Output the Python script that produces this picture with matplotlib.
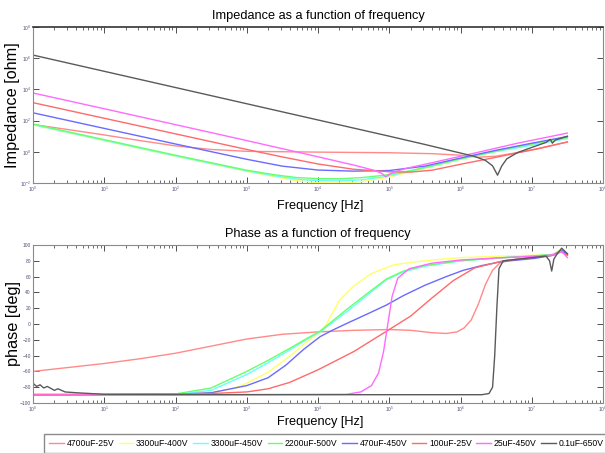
import matplotlib
matplotlib.use("Agg")
import matplotlib.pyplot as plt
import numpy as np
from matplotlib import font_manager
from matplotlib.ticker import LogLocator, FixedLocator, NullFormatter, NullLocator


def pick_font(names):
    for n in names:
        try:
            font_manager.findfont(n, fallback_to_default=False)
            return n
        except ValueError:
            pass
    return "DejaVu Sans"


MAIN_FONT = pick_font(["Liberation Sans", "Arial", "DejaVu Sans"])

labels = ["4700uF-25V", "3300uF-400V", "3300uF-450V", "2200uF-500V",
          "470uF-450V", "100uF-25V", "25uF-450V", "0.1uF-650V"]
colors = ["#ff8a8a", "#ffff6a", "#6affff", "#6aff6a",
          "#6a6aff", "#ff6a6a", "#ff6aff", "#5a5a5a"]

# impedance curves: decade exponent of f and of |Z|
z_lf_4700 = [0, 0.5, 1, 1.5, 2, 2.5, 3, 4, 5, 5.6, 6.0, 6.25, 6.5, 6.8, 7.1, 7.5]
z_lz_4700 = [1.75, 1.42, 1.08, 0.72, 0.38, 0.15, 0.03, -0.02, -0.06, -0.12, -0.22, -0.35, -0.28, -0.05, 0.2, 0.63]

z_lf_3300a = [0, 1, 2, 3, 3.4, 3.7, 4.0, 4.3, 4.6, 4.9, 5.2, 5.6, 6.0, 6.5, 7.0, 7.5]
z_lz_3300a = [1.72, 0.72, -0.28, -1.25, -1.6, -1.85, -1.98, -2.0, -1.92, -1.7, -1.4, -0.95, -0.5, 0.0, 0.45, 0.9]
z_lz_3300b = [1.74, 0.74, -0.26, -1.22, -1.55, -1.75, -1.85, -1.87, -1.8, -1.62, -1.35, -0.92, -0.47, 0.02, 0.42, 0.85]
z_lz_2200 = [1.78, 0.78, -0.22, -1.18, -1.48, -1.65, -1.72, -1.73, -1.66, -1.52, -1.3, -0.9, -0.45, 0.05, 0.5, 0.92]

z_lf_470 = [0, 1, 2, 3, 3.5, 4.0, 4.5, 5.0, 5.5, 6.0, 6.5, 7.0, 7.5]
z_lz_470 = [2.5, 1.5, 0.5, -0.48, -0.92, -1.17, -1.24, -1.2, -0.92, -0.4, 0.1, 0.55, 0.98]

z_lf_100 = [0, 1, 2, 3, 3.5, 4.0, 4.5, 5.0, 5.3, 5.6, 6.0, 6.5, 7.0, 7.5]
z_lz_100 = [3.15, 2.15, 1.15, 0.15, -0.33, -0.78, -1.12, -1.28, -1.3, -1.18, -0.8, -0.35, 0.12, 0.63]

z_lf_25 = [0, 1, 2, 3, 4, 4.5, 4.8, 4.9, 4.95, 5.02, 5.1, 5.25, 5.6, 6.2, 6.8, 7.5]
z_lz_25 = [3.77, 2.76, 1.74, 0.72, -0.32, -0.85, -1.2, -1.4, -1.6, -1.4, -1.25, -1.05, -0.7, -0.08, 0.55, 1.2]

z_lf_01 = [0, 1, 2, 3, 4, 5, 5.5, 6.0, 6.2, 6.35, 6.45, 6.52, 6.58, 6.65, 6.8, 7.0, 7.2, 7.26, 7.29, 7.33, 7.5]
z_lz_01 = [6.2, 5.16, 4.12, 3.08, 2.04, 1.0, 0.47, -0.08, -0.3, -0.55, -0.9, -1.5, -0.9, -0.45, -0.05, 0.28, 0.6, 0.8, 0.55, 0.75, 1.0]

# phase curves: decade exponent of f and phase in degrees
p_lf_4700 = [0, 0.5, 1, 1.5, 2, 2.5, 3, 3.5, 4, 4.5, 5, 5.3, 5.6, 5.8, 5.95, 6.05, 6.15, 6.25, 6.35, 6.45, 6.55, 6.7, 7.0, 7.2, 7.3, 7.4, 7.45, 7.5]
p_deg_4700 = [-60, -55, -50, -44, -37, -28, -19, -13, -10, -8, -7, -8, -11, -12, -10, -5, 5, 25, 50, 68, 77, 81, 84, 86, 88, 93, 92, 87]

p_lf_3300a = [0, 2, 2.5, 2.8, 3.0, 3.3, 3.6, 3.85, 4.03, 4.12, 4.3, 4.5, 4.75, 5.07, 5.3, 5.6, 6.0, 6.6, 7.0, 7.3, 7.42, 7.5]
p_deg_3300a = [-90, -89.5, -87, -82, -75, -61, -41, -22, -10, 0, 30, 48, 64, 75, 78, 81, 84, 86, 87, 88, 94, 88]

p_lf_3300b = [0, 2, 2.5, 3.0, 3.3, 3.6, 3.85, 4.03, 4.41, 4.74, 4.96, 5.2, 5.5, 6.0, 6.6, 7.0, 7.3, 7.42, 7.5]
p_deg_3300b = [-90, -89, -84, -64, -49, -33, -19, -10, 16, 40, 56, 66, 73, 80, 84, 86, 88, 93, 88]
p_deg_2200 = [-90, -88.5, -81, -60, -46, -31, -18, -9, 19, 42, 57, 67, 74, 80, 84, 86, 88, 94, 89]

p_lf_470 = [0, 2, 2.5, 3.0, 3.3, 3.55, 3.8, 4.03, 4.2, 4.41, 4.7, 4.96, 5.2, 5.5, 5.8, 6.04, 6.3, 6.58, 7.04, 7.3, 7.42, 7.5]
p_deg_470 = [-90, -89, -87, -78, -68, -52, -32, -16, -8, 1, 13, 24, 36, 49, 60, 68, 74, 79, 83, 87, 93, 88]

p_lf_100 = [0, 1, 2, 2.5, 3, 3.3, 3.6, 4.0, 4.5, 5.0, 5.3, 5.6, 5.9, 6.2, 6.6, 7.0, 7.3, 7.4, 7.5]
p_deg_100 = [-89, -89, -88.5, -88, -86, -82, -74, -58, -35, -7, 10, 33, 55, 71, 80, 84, 87, 92, 87]

p_lf_25 = [0, 4.4, 4.6, 4.75, 4.85, 4.92, 4.98, 5.04, 5.12, 5.28, 5.6, 6.0, 6.6, 7.1, 7.35, 7.42, 7.5]
p_deg_25 = [-90, -89, -86, -78, -62, -35, 0, 35, 58, 70, 77, 81, 84, 86, 88, 92, 84]

p_lf_01 = [0, 0.05, 0.1, 0.15, 0.2, 0.3, 0.35, 0.45, 0.6, 0.8, 1, 2, 6.3, 6.4, 6.45, 6.48, 6.51, 6.54, 6.6, 7.0, 7.2, 7.25, 7.28, 7.31, 7.35, 7.42, 7.5]
p_deg_01 = [-75, -79, -77, -81, -79, -84, -82, -86, -87, -88, -89, -89.5, -89.5, -88, -80, -40, 20, 70, 80, 84, 86, 80, 67, 82, 88, 96, 89]

imp_f = [z_lf_4700, z_lf_3300a, z_lf_3300a, z_lf_3300a, z_lf_470, z_lf_100, z_lf_25, z_lf_01]
imp_z = [z_lz_4700, z_lz_3300a, z_lz_3300b, z_lz_2200, z_lz_470, z_lz_100, z_lz_25, z_lz_01]
ph_f = [p_lf_4700, p_lf_3300a, p_lf_3300b, p_lf_3300b, p_lf_470, p_lf_100, p_lf_25, p_lf_01]
ph_d = [p_deg_4700, p_deg_3300a, p_deg_3300b, p_deg_2200, p_deg_470, p_deg_100, p_deg_25, p_deg_01]

W, H = 605, 453
fig = plt.figure(figsize=(W / 100, H / 100), dpi=100)
plt.rcParams["font.family"] = MAIN_FONT


def axes_px(left, top, right, bottom):
    return fig.add_axes([left / W, 1 - bottom / H, (right - left) / W, (bottom - top) / H])


ax1 = axes_px(33, 27, 603, 183)
ax2 = axes_px(33, 245, 603, 403)

lines = []
for lf, lz, c, lab in zip(imp_f, imp_z, colors, labels):
    ln, = ax1.plot(10.0 ** np.array(lf), 10.0 ** np.array(lz), color=c, lw=1.0, label=lab)
    lines.append(ln)
for lf, d, c in zip(ph_f, ph_d, colors):
    ax2.plot(10.0 ** np.array(lf), d, color=c, lw=1.0)

for ax in (ax1, ax2):
    ax.set_xscale("log")
    ax.set_xlim(1, 1e8)
    ax.xaxis.set_major_locator(LogLocator(base=10, numticks=20))
    ax.xaxis.set_minor_locator(LogLocator(base=10, subs=np.arange(2, 10), numticks=20))
    ax.xaxis.set_minor_formatter(NullFormatter())
    ax.tick_params(which="both", direction="in", top=True, right=True,
                   labelsize=3.5, labelcolor="#55507a", color="#333333", pad=1.5)
    ax.tick_params(which="major", length=4, width=0.6)
    ax.tick_params(which="minor", length=2.5, width=0.5)
    for s in ax.spines.values():
        s.set_color("#8a8a8a")
        s.set_linewidth(0.8)

ax1.spines["top"].set_color("#333333")
ax1.spines["top"].set_linewidth(1.2)

ax1.set_yscale("log")
ax1.set_ylim(1e-2, 1e8)
ax1.yaxis.set_major_locator(FixedLocator([1e-2, 1e0, 1e2, 1e4, 1e6, 1e8]))
ax1.yaxis.set_minor_locator(NullLocator())

ax2.set_ylim(-100, 100)
ax2.set_yticks(np.arange(-100, 101, 20))
ax2.yaxis.set_minor_locator(NullLocator())

fig.text(318 / W, 1 - 16 / H, "Impedance as a function of frequency", ha="center", va="center", fontsize=9.2)
fig.text(320 / W, 1 - 206 / H, "Frequency [Hz]", ha="center", va="center", fontsize=9.2)
fig.text(318 / W, 1 - 234 / H, "Phase as a function of frequency", ha="center", va="center", fontsize=9.2)
fig.text(320 / W, 1 - 422 / H, "Frequency [Hz]", ha="center", va="center", fontsize=9.2)
fig.text(13 / W, 1 - 105 / H, "Impedance [ohm]", ha="center", va="center", rotation=90, fontsize=11.7)
fig.text(14 / W, 1 - 323 / H, "phase [deg]", ha="center", va="center", rotation=90, fontsize=11.7)

fig.legend(handles=lines, loc="upper left", bbox_to_anchor=(44 / W, 1 - 434 / H),
           ncol=8, frameon=True, fancybox=False, edgecolor="#8a8a8a", framealpha=1,
           prop={"family": MAIN_FONT, "size": 6.2}, handlelength=1.7, handletextpad=0.3,
           columnspacing=0.55, borderpad=0.6, borderaxespad=0)

fig.savefig("out.png", dpi=100)
